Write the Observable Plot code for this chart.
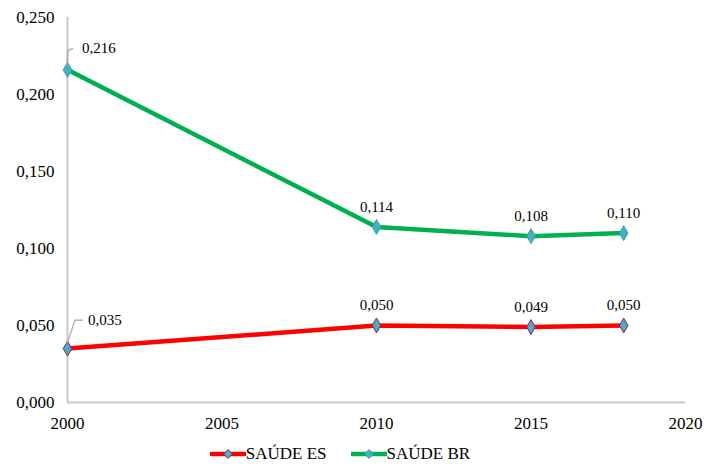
<!DOCTYPE html>
<html>
<head>
<meta charset="utf-8">
<script src="https://cdn.jsdelivr.net/npm/d3@7"></script>
<script src="https://cdn.jsdelivr.net/npm/@observablehq/plot@0.6"></script>
<style>
  body { margin: 0; background: #fff; font-family: "Liberation Serif", "DejaVu Serif", serif; }
  #legend { display: flex; justify-content: center; align-items: center; gap: 24px; height: 37px; padding-right: 30px; font-size: 17px; color: #000; }
  .item { display: flex; align-items: center; }
</style>
</head>
<body>
<div id="chart"></div>
<div id="legend"></div>
<script>
const years = [2000, 2010, 2015, 2018];
const saudeES = [0.035, 0.050, 0.049, 0.050];
const saudeBR = [0.216, 0.114, 0.108, 0.110];
const seriesNames = ["SAÚDE ES", "SAÚDE BR"];
const seriesColors = ["#FF0000", "#00B050"];
const markerStroke = ["#8B2252", "#2BA5A0"];
const markerFill = "#4BACC6";
const xTicks = [2000, 2005, 2010, 2015, 2020];
const yTicks = [0, 0.05, 0.10, 0.15, 0.20, 0.25];

const fmt = v => d3.format(".3f")(v).replace(".", ",");

const data = [];
[saudeES, saudeBR].forEach((vals, s) => {
  years.forEach((yr, i) => data.push({series: seriesNames[s], year: yr, value: vals[i], idx: i}));
});

const first = data.filter(d => d.idx === 0);
const rest = data.filter(d => d.idx !== 0);

const chart = Plot.plot({
  width: 710,
  height: 435,
  marginLeft: 67,
  marginRight: 25,
  marginTop: 17,
  marginBottom: 33,
  style: {fontFamily: "Liberation Serif, DejaVu Serif, serif", fontSize: "17px", color: "#000", background: "#fff"},
  x: {domain: [2000, 2020], ticks: xTicks, tickFormat: d => String(d), tickSize: 0, tickPadding: 14, label: null},
  y: {domain: [0, 0.25], ticks: yTicks, tickFormat: fmt, tickSize: 0, tickPadding: 13, label: null},
  color: {domain: seriesNames, range: seriesColors},
  marks: [
    Plot.ruleX([2000], {stroke: "#C8C8C8", strokeWidth: 2}),
    Plot.ruleY([0], {stroke: "#C8C8C8", strokeWidth: 2}),
    Plot.line(data, {x: "year", y: "value", z: "series", stroke: "series", strokeWidth: 4.5}),
    Plot.dot(data, {x: "year", y: "value", symbol: "diamond", r: 4.5, fill: markerFill,
      stroke: d => markerStroke[seriesNames.indexOf(d.series)], strokeWidth: 1}),
    Plot.text(rest, {x: "year", y: "value", text: d => fmt(d.value), dy: -20, fontSize: 15, fill: "#000"}),
    Plot.text(first, {x: "year", y: "value", text: d => fmt(d.value), textAnchor: "start", fontSize: 15, fill: "#000"})
  ]
});

document.getElementById("chart").appendChild(chart);

// shift first-point labels right and draw leader lines using the plot's scales
const xs = chart.scale("x"), ys = chart.scale("y");
const svg = d3.select(chart);
const leaderOffsets = [ {lx: 21, bend: [8, -28], end: [16, -28]}, {lx: 15, bend: [1, -19], end: [6, -21]} ];
svg.selectAll("g[aria-label='text']").filter((d, i) => i === 1).each(function() {
  d3.select(this).attr("transform", null);
}).selectAll("text").each(function(_, i) {
  const d = first[i];
  const off = d.series === seriesNames[0] ? leaderOffsets[0] : leaderOffsets[1];
  const px = xs.apply(d.year), py = ys.apply(d.value);
  d3.select(this).attr("x", null).attr("y", null).attr("transform", `translate(${px + off.lx},${py + off.end[1]})`).attr("dy", "0.32em");
  svg.append("path")
    .attr("d", `M${px},${py - 4}L${px + off.bend[0]},${py + off.bend[1]}L${px + off.end[0]},${py + off.end[1]}`)
    .attr("fill", "none").attr("stroke", "#A6A6A6").attr("stroke-width", 1.2);
});

// legend
const legend = document.getElementById("legend");
seriesNames.forEach((name, s) => {
  const item = document.createElement("div");
  item.className = "item";
  item.innerHTML = `<svg width="36" height="12"><line x1="1" x2="35" y1="6" y2="6" stroke="${seriesColors[s]}" stroke-width="4.5" stroke-linecap="round"/>
    <path d="M18,1.5L22.5,6L18,10.5L13.5,6Z" fill="${markerFill}" stroke="${markerStroke[s]}" stroke-width="1"/></svg><span>${name}</span>`;
  legend.appendChild(item);
});
</script>
</body>
</html>
